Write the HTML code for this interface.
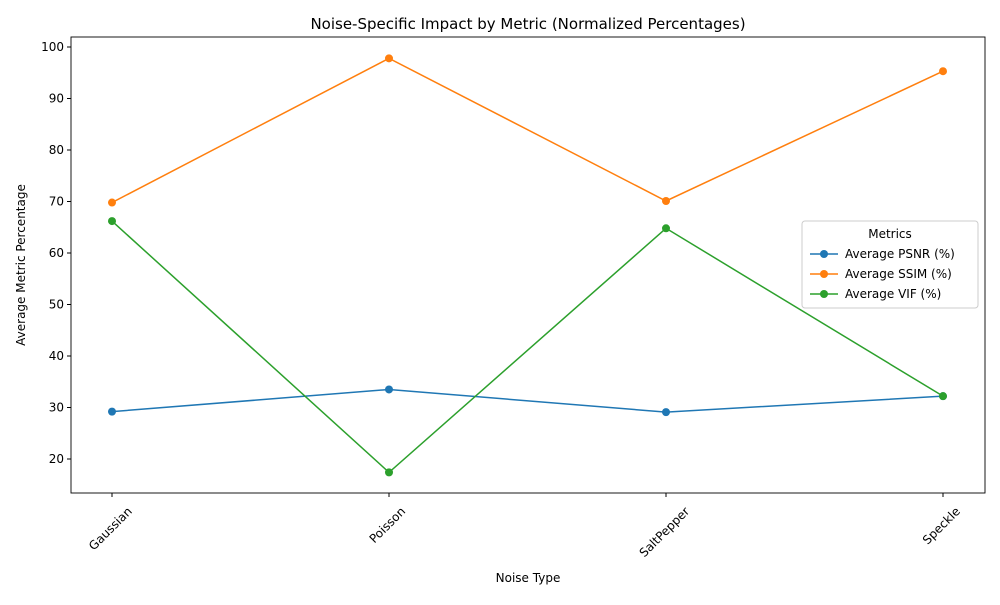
<!DOCTYPE html>
<html><head><meta charset="utf-8"><style>
body{margin:0;background:#fff;font-family:"Liberation Sans","DejaVu Sans",sans-serif;}
svg text{font-family:"DejaVu Sans","Liberation Sans",sans-serif;}
</style></head><body>
<svg width="1000" height="600" id="chart">
<rect width="1000" height="600" fill="#fff"/>
<text x="528" y="29" font-size="15" text-anchor="middle">Noise-Specific Impact by Metric (Normalized Percentages)</text>
<text x="528" y="582" font-size="12" text-anchor="middle">Noise Type</text>
<text x="25" y="265" font-size="12" text-anchor="middle" transform="rotate(-90 25 265)">Average Metric Percentage</text>
<g id="axes"></g>
<g id="series"></g>
<rect x="71" y="37" width="914" height="456" fill="none" stroke="#000" stroke-width="0.9"/>
<g>
<rect x="802" y="221" width="176" height="87" rx="3" fill="#fff" stroke="#ccc"/>
<text x="890" y="238" font-size="12" text-anchor="middle">Metrics</text>
<g id="legend"></g>
</g>
</svg>
<script>
const categories=["Gaussian","Poisson","SaltPepper","Speckle"];
const seriesNames=["Average PSNR (%)","Average SSIM (%)","Average VIF (%)"];
const psnr=[29.2,33.5,29.1,32.2];
const ssim=[69.8,97.8,70.1,95.3];
const vif=[66.2,17.4,64.8,32.2];
const yTicks=[20,30,40,50,60,70,80,90,100];
const colors=["#1f77b4","#ff7f0e","#2ca02c"];
const NS="http://www.w3.org/2000/svg";
function xS(i){return 112+i*277;}
function yS(v){return 459-(v-20)*5.15;}
function mk(t,a,p){const e=document.createElementNS(NS,t);for(const k in a)e.setAttribute(k,a[k]);p.appendChild(e);return e;}
const ax=document.getElementById('axes');
yTicks.forEach(v=>{
 const l=mk('line',{x1:67,x2:71,y1:yS(v),y2:yS(v),stroke:'#000'},ax);
 
 
 const t=mk('text',{x:64,y:yS(v)+4,'font-size':12,'text-anchor':'end'},ax);t.textContent=v;
 
 
});
categories.forEach((c,i)=>{
 const l=mk('line',{x1:xS(i),x2:xS(i),y1:493,y2:497,stroke:'#000'},ax);
 
 
 const t=mk('text',{x:0,y:0,'font-size':12,'text-anchor':'end'},ax);t.textContent=c;
 
 
 const w=t.getComputedTextLength();
 const half=(w+12)/(2*1.414);
 const px=xS(i)+half-3, py=512;
 t.setAttribute('x',px);t.setAttribute('y',py);
 t.setAttribute('transform',`rotate(-45 ${px} ${py})`);
});
const sg=document.getElementById('series');
[psnr,ssim,vif].forEach((d,s)=>{
 const g=mk('g',{},sg);
 
 
 mk('polyline',{points:d.map((v,i)=>xS(i)+','+yS(v)).join(' '),fill:'none',stroke:colors[s],'stroke-width':1.5},g);
 d.forEach((v,i)=>{const c=mk('circle',{cx:xS(i),cy:yS(v),r:4,fill:colors[s]},g);
  
  });
});
const lg=document.getElementById('legend');
seriesNames.forEach((n,s)=>{
 const y=254+s*20;
 const g=mk('g',{},lg);
 
 
 mk('line',{x1:810,x2:838,y1:y,y2:y,stroke:colors[s],'stroke-width':1.5},g);
 mk('circle',{cx:824,cy:y,r:4,fill:colors[s]},g);
 const t=mk('text',{x:845,y:y+4,'font-size':12},g);t.textContent=n;
});
</script>
</body></html>
